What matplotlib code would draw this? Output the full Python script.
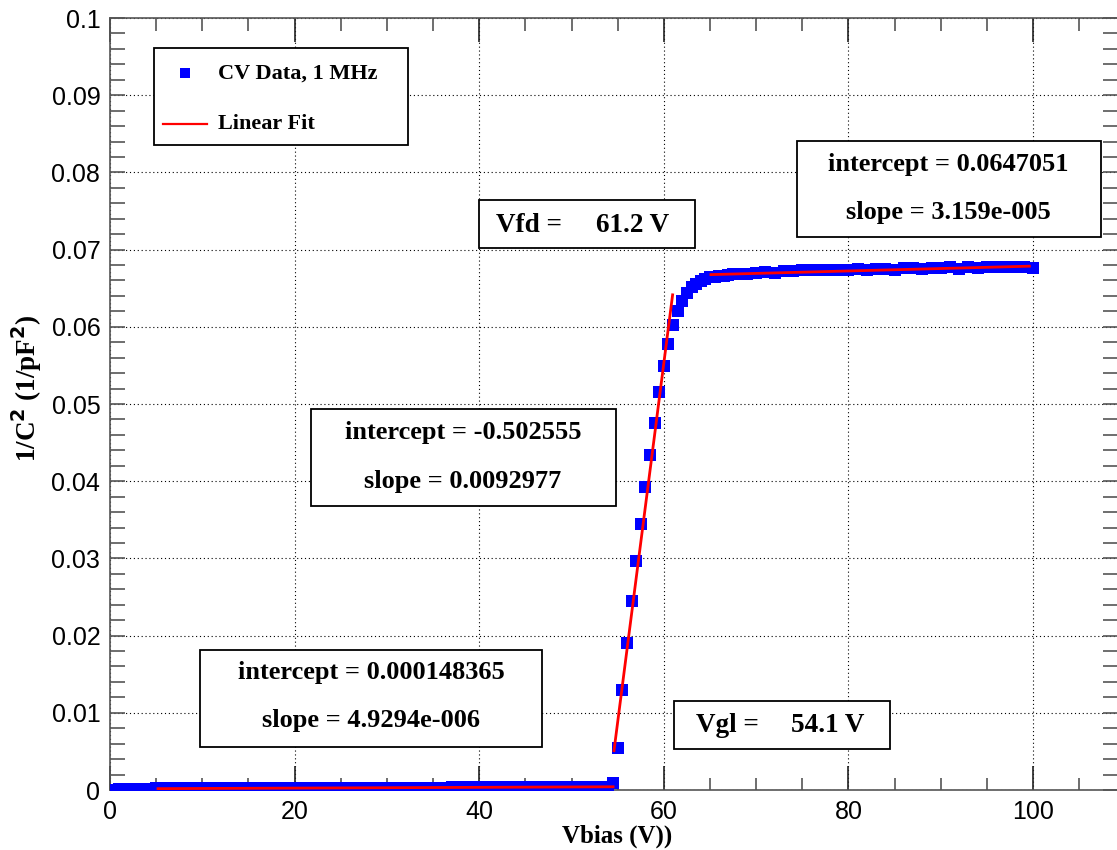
import matplotlib
matplotlib.use("Agg")
import matplotlib.pyplot as plt
from matplotlib.patches import Rectangle
from matplotlib.lines import Line2D
from matplotlib.ticker import MultipleLocator, FuncFormatter

# ---------------- data ----------------
vbias_low = [0, 1, 2, 3, 4, 5, 6, 7, 8, 9, 10, 11, 12, 13, 14, 15, 16, 17, 18, 19,
             20, 21, 22, 23, 24, 25, 26, 27, 28, 29, 30, 31, 32, 33, 34, 35, 36, 37,
             38, 39, 40, 41, 42, 43, 44, 45, 46, 47, 48, 49, 50, 51, 52, 53, 54]
invc2_low = [0.00005, 0.00010, 0.00016, 0.00018, 0.00019, 0.00020, 0.00020, 0.00021,
             0.00021, 0.00022, 0.00022, 0.00022, 0.00023, 0.00023, 0.00024, 0.00024,
             0.00024, 0.00025, 0.00025, 0.00025, 0.00026, 0.00026, 0.00027, 0.00027,
             0.00027, 0.00028, 0.00028, 0.00029, 0.00029, 0.00029, 0.00030, 0.00030,
             0.00031, 0.00031, 0.00031, 0.00032, 0.00032, 0.00033, 0.00033, 0.00033,
             0.00034, 0.00034, 0.00035, 0.00035, 0.00035, 0.00036, 0.00036, 0.00037,
             0.00037, 0.00037, 0.00038, 0.00038, 0.00039, 0.00040, 0.00042]
vbias_ramp = [54.5, 55.0, 55.5, 56.0, 56.5, 57.0, 57.5, 58.0, 58.5, 59.0, 59.5, 60.0,
              60.5, 61.0, 61.5, 62.0, 62.5, 63.0, 63.5, 64.0, 64.5, 65.0, 65.5, 66.0]
invc2_ramp = [0.0009, 0.0054, 0.0129, 0.0190, 0.0245, 0.0296, 0.0345, 0.0392,
              0.0434, 0.0475, 0.0516, 0.0549, 0.0578, 0.0602, 0.0621, 0.0633,
              0.0644, 0.0651, 0.0656, 0.0659, 0.0662, 0.0664, 0.0665, 0.0666]
vbias_high = [66.5, 67, 67.5, 68, 69, 70, 71, 72, 73, 74, 75, 76, 77, 78, 79, 80, 81,
              82, 83, 84, 85, 86, 87, 88, 89, 90, 91, 92, 93, 94, 95, 96, 97, 98, 99,
              100]
invc2_high = [0.0666, 0.0667, 0.0668, 0.0668, 0.0669, 0.0670, 0.0671, 0.0670, 0.0672,
              0.0672, 0.0673, 0.0673, 0.0674, 0.0673, 0.0674, 0.0674, 0.0675, 0.0674,
              0.0675, 0.0675, 0.0674, 0.0676, 0.0676, 0.0675, 0.0676, 0.0676, 0.0677,
              0.0675, 0.0677, 0.0676, 0.0677, 0.0678, 0.0677, 0.0677, 0.0678, 0.0676]

# linear fits: (intercept, slope, x range)
fit_intercepts = [0.000148365, -0.502555, 0.0647051]
fit_slopes = [4.9294e-06, 0.0092977, 3.159e-05]
fit_ranges = [(5.2, 54.5), (54.6, 60.95), (65.1, 99.6)]

fit_texts = [("intercept = 0.000148365", "slope = 4.9294e-006"),
             ("intercept = -0.502555", "slope = 0.0092977"),
             ("intercept = 0.0647051", "slope = 3.159e-005")]
vfd_value = "61.2 V"
vgl_value = "54.1 V"
legend_labels = ["CV Data, 1 MHz", "Linear Fit"]

# ---------------- figure ----------------
W, H = 1117, 850
fig = plt.figure(figsize=(W / 100, H / 100), dpi=100)
ax = fig.add_axes([110 / W, 60 / H, (1118 - 110) / W, (790 - 18) / H])

serif = "Liberation Serif"
sans = "Liberation Sans"

xs = vbias_low + vbias_ramp + vbias_high
ys = invc2_low + invc2_ramp + invc2_high
ax.plot(xs, ys, linestyle="none", marker="s", markersize=8.2,
        color="#0000ff", markeredgewidth=0, zorder=3)

for b, m, (x0, x1) in zip(fit_intercepts, fit_slopes, fit_ranges):
    ax.plot([x0, x1], [b + m * x0, b + m * x1], color="#ff0000", lw=2, zorder=4)

ax.set_xlim(0, 109.2)
ax.set_ylim(0, 0.1)
ax.xaxis.set_major_locator(MultipleLocator(20))
ax.xaxis.set_minor_locator(MultipleLocator(5))
ax.yaxis.set_major_locator(MultipleLocator(0.01))
ax.yaxis.set_minor_locator(MultipleLocator(0.002))
ax.yaxis.set_major_formatter(FuncFormatter(lambda v, p: "%g" % round(v, 4)))
ax.xaxis.set_major_formatter(FuncFormatter(lambda v, p: "%g" % v))

ax.tick_params(axis="both", which="both", direction="in", top=True, right=True,
               colors="#555555", labelcolor="black", labelsize=18)
ax.tick_params(axis="x", which="major", length=17, width=1.2, pad=7, colors="#222222",
               labelcolor="black")
ax.tick_params(axis="x", which="minor", length=9, width=1.2)
ax.tick_params(axis="y", which="major", length=11, width=1.2, pad=7)
ax.tick_params(axis="y", which="minor", length=11, width=1.2)
for lab in ax.get_xticklabels() + ax.get_yticklabels():
    lab.set_fontfamily(sans)
for sp in ax.spines.values():
    sp.set_color("#555555")
    sp.set_linewidth(1.2)

ax.grid(which="major", color="black", linestyle=(0, (1, 2.5)), linewidth=0.8)
ax.set_axisbelow(True)


def fx(px):
    return px / W


def fy(py):
    return 1 - py / H


def box(x0, y0, x1, y1):
    fig.add_artist(Rectangle((fx(x0), fy(y1)), fx(x1) - fx(x0), fy(y0) - fy(y1),
                             transform=fig.transFigure, facecolor="white",
                             edgecolor="black", linewidth=1.3, zorder=5))


def txt(x, y, s, size=19, ha="center"):
    fig.text(fx(x), fy(y), s, ha=ha, va="center", fontsize=size,
             fontfamily=serif, fontweight="bold", zorder=6)


# axis titles
txt(617, 836, "Vbias (V))", size=18)
fig.text(fx(27), fy(388), "1/C$^{\\mathbf{2}}$ (1/pF$^{\\mathbf{2}}$)", rotation=90,
         ha="center", va="center", fontsize=19.5, fontfamily=serif,
         fontweight="bold")

# legend
box(154, 48, 408, 145)
fig.add_artist(Line2D([fx(185)], [fy(73)], marker="s", markersize=7,
                      color="#0000ff", markeredgewidth=0, linestyle="none",
                      transform=fig.transFigure, zorder=6))
fig.add_artist(Line2D([fx(163), fx(207)], [fy(124), fy(124)], color="#ff0000",
                      lw=1.6, transform=fig.transFigure, zorder=6))
txt(218, 74, legend_labels[0], size=16, ha="left")
txt(218, 124, legend_labels[1], size=16, ha="left")

# fit boxes
box(200, 650, 542, 747)
txt(371, 673, fit_texts[0][0])
txt(371, 721, fit_texts[0][1])
box(311, 409, 616, 506)
txt(463, 433, fit_texts[1][0])
txt(463, 482, fit_texts[1][1])
box(797, 141, 1101, 237)
txt(948, 164, fit_texts[2][0])
txt(948, 212, fit_texts[2][1])

# Vfd / Vgl boxes
box(479, 200, 695, 248)
txt(496, 225, "Vfd =", size=19.5, ha="left")
txt(596, 225, vfd_value, size=19.5, ha="left")
box(674, 701, 890, 749)
txt(696, 725, "Vgl =", size=19.5, ha="left")
txt(791, 725, vgl_value, size=19.5, ha="left")

fig.savefig("out.png", dpi=100)
